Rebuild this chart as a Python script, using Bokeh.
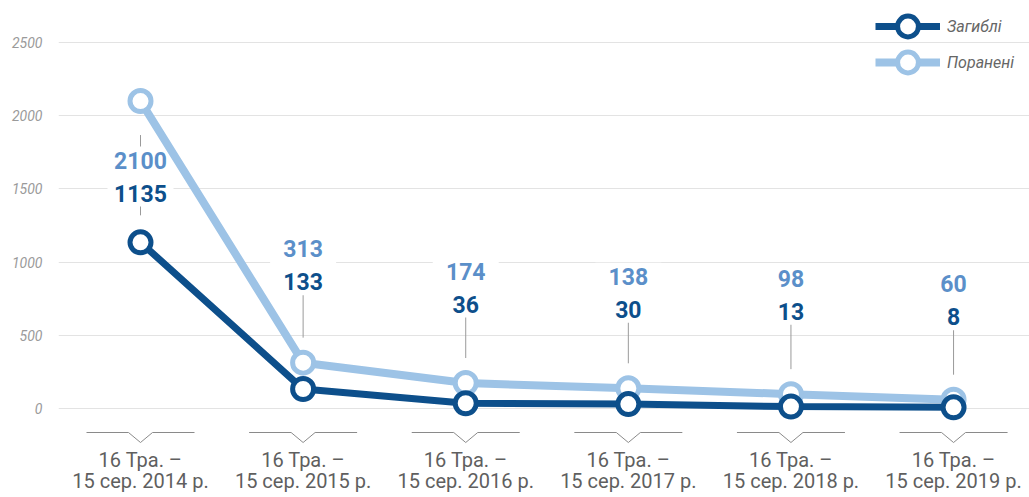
from bokeh.plotting import figure
from bokeh.models import Range1d, FixedTicker, Legend, LegendItem
from bokeh.core.properties import value
from bokeh.embed import file_html
from bokeh.resources import INLINE

# ---- data ----
periods = [
    "16 Тра. –\n15 сер. 2014 р.",
    "16 Тра. –\n15 сер. 2015 р.",
    "16 Тра. –\n15 сер. 2016 р.",
    "16 Тра. –\n15 сер. 2017 р.",
    "16 Тра. –\n15 сер. 2018 р.",
    "16 Тра. –\n15 сер. 2019 р.",
]
killed = [1135, 133, 36, 30, 13, 8]
injured = [2100, 313, 174, 138, 98, 60]
y_ticks = [0, 500, 1000, 1500, 2000, 2500]
name_killed = "Загиблі"
name_injured = "Поранені"

# ---- style ----
DARK = "#0d4f8b"
LIGHT = "#9dc3e6"
LIGHT_TXT = "#5b8fc9"
FONT = "Roboto"
label_off_px = [59, -114, -112, -112, -116, -116]  # light label offset (px, + = down)
pair_gap_px = 33

W, H = 1029, 497
FRAME_H = 444
Y_END, Y_START = 2786.9, -245.9
UPP = (Y_END - Y_START) / FRAME_H          # data units per pixel (y)
X_START, X_END = -0.5043, 5.467
XPP = 1.0 / 162.6                           # index units per pixel (x)

idx = list(range(len(periods)))

p = figure(width=W, height=H, output_backend="svg", toolbar_location=None,
           x_range=Range1d(X_START, X_END), y_range=Range1d(Y_START, Y_END),
           min_border_left=58, min_border_right=0, min_border_top=0,
           min_border_bottom=H - FRAME_H)
p.outline_line_color = None
p.background_fill_color = "white"
p.border_fill_color = "white"
p.xgrid.visible = False
p.ygrid.ticker = FixedTicker(ticks=y_ticks)
p.ygrid.grid_line_color = "#e3e3e3"
p.ygrid.grid_line_width = 1

p.yaxis.ticker = FixedTicker(ticks=y_ticks)
p.yaxis.axis_line_color = None
p.yaxis.major_tick_line_color = None
p.yaxis.minor_tick_line_color = None
p.yaxis.major_tick_out = 0
p.yaxis.minor_tick_out = 0
p.yaxis.major_label_text_font = FONT
p.yaxis.major_label_text_font_style = "italic"
p.yaxis.major_label_text_font_size = "14px"
p.yaxis.major_label_text_color = "#9a9a9a"
p.yaxis.major_label_standoff = 16

p.xaxis.ticker = FixedTicker(ticks=idx)
p.xaxis.major_label_overrides = {i: periods[i] for i in idx}
p.xaxis.axis_line_color = None
p.xaxis.major_tick_line_color = None
p.xaxis.minor_tick_line_color = None
p.xaxis.major_tick_out = 0
p.xaxis.minor_tick_out = 0
p.xaxis.major_label_text_font = FONT
p.xaxis.major_label_text_font_size = "20px"
p.xaxis.major_label_text_line_height = 0.9
p.xaxis.major_label_text_color = "#5f5f5f"
p.xaxis.major_label_standoff = 3

# brackets above x labels
yb = 0 - 24 * UPP
bxs, bys = [], []
for i in idx:
    bxs.append([i - 54 * XPP, i - 12 * XPP, i, i + 12 * XPP, i + 54 * XPP])
    bys.append([yb, yb, yb - 10 * UPP, yb, yb])
p.multi_line(bxs, bys, line_color="#8a8a8a", line_width=1)

# leader lines
sx0, sy0, sx1, sy1 = [], [], [], []
for i in idx:
    off = label_off_px[i]
    if off < 0:
        top = injured[i] - off * UPP
        bot = injured[i] + 25 * UPP
    else:
        top = injured[i] - 34 * UPP
        bot = killed[i] + 27 * UPP
    sx0.append(i); sx1.append(i); sy0.append(top); sy1.append(bot)
p.segment(sx0, sy0, sx1, sy1, line_color="#9a9a9a", line_width=1)

# white label boxes
box_y = [injured[i] - (label_off_px[i] + pair_gap_px / 2) * UPP for i in idx]
p.rect(idx, box_y, width=66, height=pair_gap_px + 27, width_units="screen",
       height_units="screen", fill_color="white", line_color=None)

# series
r_il = p.line(idx, injured, line_color=LIGHT, line_width=8)
r_is = p.scatter(idx, injured, size=21, marker="circle", fill_color="white",
                 line_color=LIGHT, line_width=5)
r_kl = p.line(idx, killed, line_color=DARK, line_width=7)
r_ks = p.scatter(idx, killed, size=21, marker="circle", fill_color="white",
                 line_color=DARK, line_width=5)

# value labels
p.text(idx, injured, text=[str(v) for v in injured], y_offset=label_off_px,
       text_font=value(FONT), text_font_style="bold", text_font_size="23px",
       text_color=LIGHT_TXT, text_align="center", text_baseline="middle")
p.text(idx, injured, text=[str(v) for v in killed],
       y_offset=[o + pair_gap_px for o in label_off_px],
       text_font=value(FONT), text_font_style="bold", text_font_size="23px",
       text_color=DARK, text_align="center", text_baseline="middle")

legend_style = dict(orientation="vertical", glyph_width=65, glyph_height=52,
                    label_height=52, spacing=0, padding=0, margin=0,
                    label_standoff=7, background_fill_alpha=0,
                    border_line_color=None, label_text_font=FONT,
                    label_text_font_style="italic", label_text_font_size="16px",
                    label_text_color="#666666")
leg1 = Legend(items=[LegendItem(label=name_killed, renderers=[r_kl, r_ks])],
              location=(817, FRAME_H - 52), **legend_style)
leg2 = Legend(items=[LegendItem(label=name_injured, renderers=[r_il, r_is])],
              location=(817, FRAME_H - 88), **legend_style)
p.add_layout(leg1)
p.add_layout(leg2)

open("out.html", "w").write(file_html(p, INLINE))
